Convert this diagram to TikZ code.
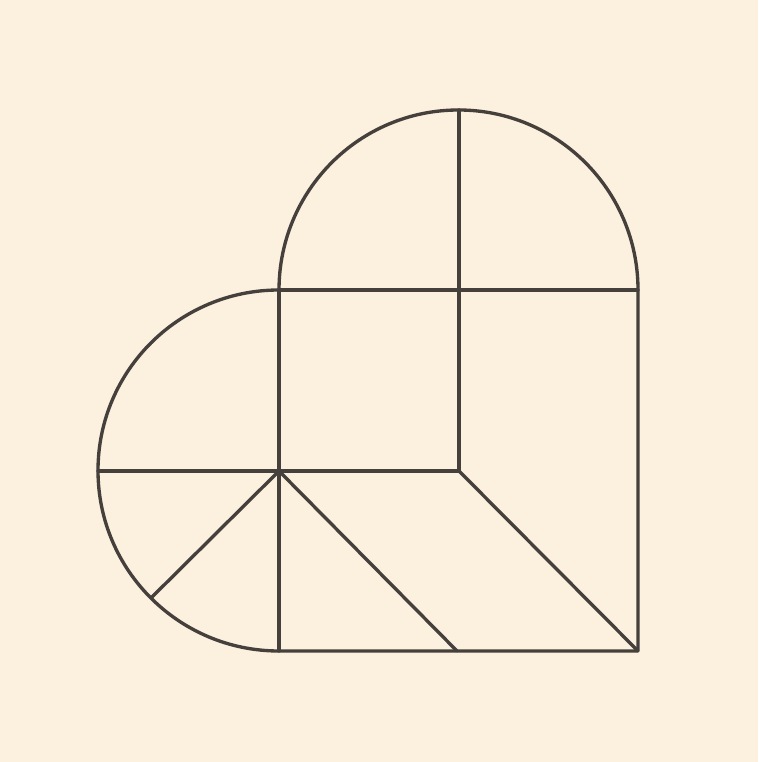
\documentclass[tikz,border=0pt]{standalone}
\begin{document}
\begin{tikzpicture}[x=0.01cm,y=-0.01cm,
  edge/.style={draw=lineC,line width=0.95pt,line join=round,line cap=round}]
\definecolor{paper}{HTML}{FCF0DF}
\definecolor{lineC}{HTML}{45403B}
\fill[paper] (0,0) rectangle (758,762);
\useasboundingbox (0,0) rectangle (758,762);
% key points
\coordinate (TL) at (279,290);
\coordinate (TM) at (459,290);
\coordinate (TR) at (638,290);
\coordinate (ML) at (279,471);
\coordinate (MM) at (459,471);
\coordinate (BL) at (279,651);
\coordinate (BM) at (457,651);
\coordinate (BR) at (638,651);
\coordinate (LL) at (98,471);
\coordinate (TT) at (459,110);
\coordinate (AR) at (151,598);
% outline
\path[edge] (TL) arc[start angle=180,end angle=0,x radius=179.5,y radius=-180]
  -- (BR) -- (BL) arc[start angle=270,end angle=90,x radius=181,y radius=-180.5] -- cycle;
% inner lines
\path[edge] (TT) -- (MM) -- (ML);
\path[edge] (TL) -- (TR);
\path[edge] (TL) -- (BL);
\path[edge] (LL) -- (ML);
\path[edge] (MM) -- (BR);
\path[edge] (ML) -- (BM);
\path[edge] (ML) -- (AR);
\end{tikzpicture}
\end{document}
